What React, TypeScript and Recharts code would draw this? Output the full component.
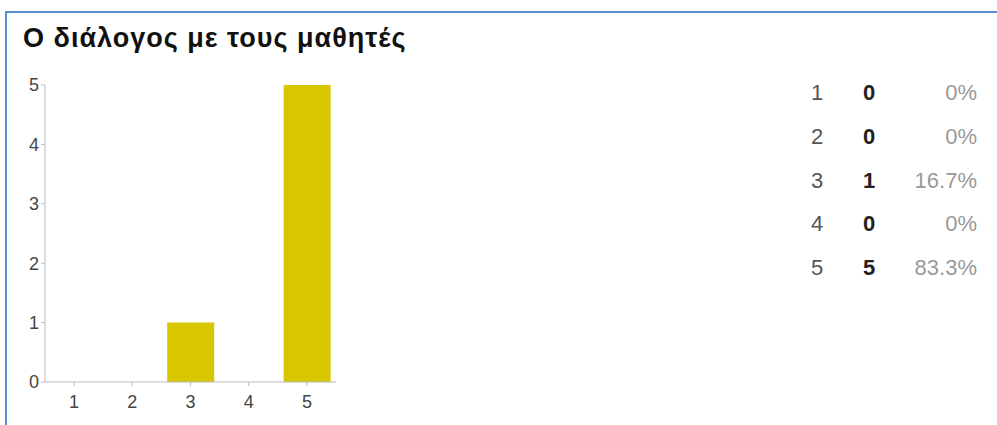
import { Bar, BarChart, XAxis, YAxis } from 'recharts';

const categories = ['1', '2', '3', '4', '5'];
const counts = [0, 0, 1, 0, 5];
const percents = ['0%', '0%', '16.7%', '0%', '83.3%'];
const yTicks = [0, 1, 2, 3, 4, 5];
const title = 'Ο διάλογος με τους μαθητές';

const FONT = '"Liberation Sans", Arial, sans-serif';

export default function App(): JSX.Element {
    const data = categories.map((c, i) => ({ name: c, value: counts[i] }));

    return (
        <div style={{ position: 'absolute', left: 0, top: 0, width: 997, height: 425, background: '#fff', overflow: 'hidden', fontFamily: FONT }}>
            {/* blue frame, only top and left edges visible */}
            <div style={{ position: 'absolute', left: 5, top: 11, width: 1100, height: 500, borderTop: '2px solid #5a8ed1', borderLeft: '2px solid #5a8ed1' }} />

            <div style={{ position: 'absolute', left: 23, top: 25, fontSize: 27, lineHeight: '26px', letterSpacing: 1, fontWeight: 'bold', color: '#111', whiteSpace: 'nowrap' }}>
                {title}
            </div>

            <div style={{ position: 'absolute', left: 0, top: 0 }}>
                <BarChart width={360} height={425} data={data}
                    margin={{ top: 85, right: 24, bottom: 13, left: 0 }}
                    barCategoryGap="10%">
                    <XAxis dataKey="name" height={30} stroke="#bbb" tickSize={4} tickMargin={9}
                        tick={{ fill: '#444', fontSize: 18, fontFamily: FONT }} />
                    <YAxis width={45} domain={[0, 5]} ticks={yTicks} stroke="#bbb" tickSize={4}
                        tick={{ fill: '#444', fontSize: 18, fontFamily: FONT }} />
                    <Bar dataKey="value" fill="#d8c600" isAnimationActive={false} />
                </BarChart>
            </div>

            {categories.map((c, i) => (
                <div key={c} style={{ position: 'absolute', left: 800, top: 80 + i * 43.8, width: 180, height: 26, fontSize: 22, lineHeight: '26px' }}>
                    <span style={{ position: 'absolute', left: 11, color: '#555' }}>{c}</span>
                    <span style={{ position: 'absolute', left: 63, color: '#222', fontWeight: 'bold' }}>{counts[i]}</span>
                    <span style={{ position: 'absolute', right: 3, color: '#999' }}>{percents[i]}</span>
                </div>
            ))}
        </div>
    );
}
